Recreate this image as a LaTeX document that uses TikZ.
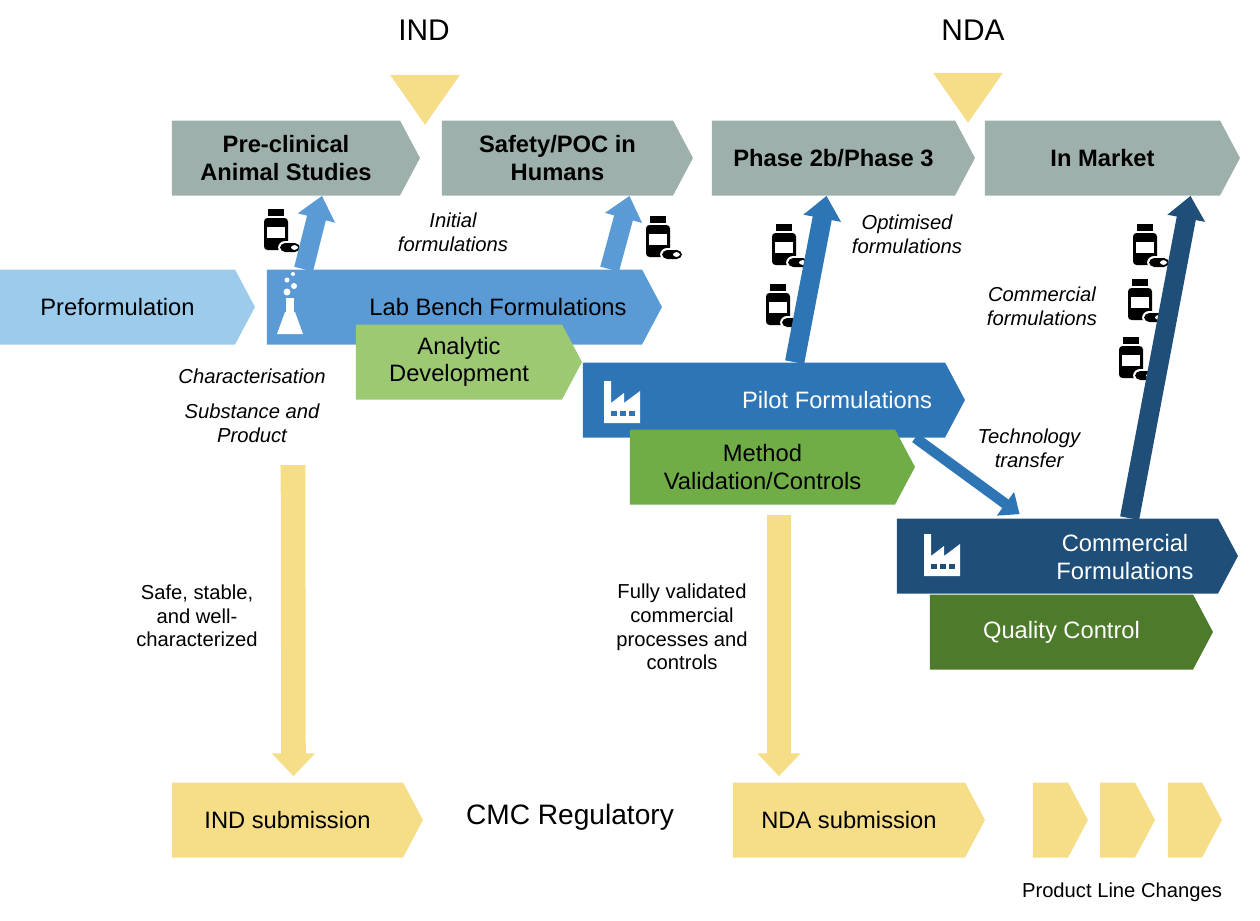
\documentclass[tikz,border=0pt]{standalone}
\usepackage{fontspec}
\setmainfont{Liberation Sans}
\usetikzlibrary{shapes.symbols, shapes.geometric, arrows.meta, positioning, calc}
\definecolor{stagegray}{RGB}{157, 176, 171}
\definecolor{preblue}{RGB}{157, 203, 235}
\definecolor{labblue}{RGB}{91, 155, 213}
\definecolor{pilotblue}{RGB}{46, 117, 182}
\definecolor{combblue}{RGB}{31, 78, 121}
\definecolor{lightgreen}{RGB}{157, 201, 115}
\definecolor{midgreen}{RGB}{112, 173, 71}
\definecolor{darkgreen}{RGB}{78, 122, 43}
\definecolor{regyellow}{RGB}{246, 221, 136}

\begin{document}
\begin{tikzpicture}[
    x=0.02cm, y=-0.02cm,
    stage/.style={signal, signal to=east, signal pointer angle=124, inner sep=0pt,
        minimum height=75*0.02cm, align=center, font=\fontsize{13.5}{15.5}\selectfont},
    milestone/.style={isosceles triangle, shape border rotate=-90, isosceles triangle apex angle=70,
        fill=regyellow, inner sep=0pt, minimum height=50*0.02cm},
    uparrow/.style={line width=11pt, -{Triangle[length=13pt, width=21pt]}},
    regarrow/.style={line width=14pt, regyellow, -{Triangle[length=13pt, width=24pt]}},
    note/.style={font=\fontsize{11.5}{13.5}\selectfont\itshape, align=center},
    plain/.style={font=\fontsize{11.5}{13.5}\selectfont, align=center},
    bottle/.pic={
        \fill[black] (-8,-21) rectangle (8,-14);
        \fill[black, rounded corners=2pt] (-12,-12) rectangle (12,20);
        \fill[white] (-9,-3) rectangle (9,8);
        \fill[black] (-12,-1) rectangle (-9,6);
        \fill[white, rounded corners=4pt] (2,11) rectangle (26,24);
        \fill[black, rounded corners=3pt] (4,13) rectangle (24,22);
        \fill[white, rounded corners=2pt] (15,15) rectangle (22,20);
    },
    flask/.pic={
        \fill[white] (-4,-14) rectangle (4,2);
        \fill[white] (-5,0) -- (5,0) -- (13,22) -- (-13,22) -- cycle;
        \fill[white] (-3,-20) circle (3.5);
        \fill[white] (4,-26) circle (3);
        \fill[white] (-3,-32) circle (2.5);
        \fill[white] (3,-38) circle (2);
    },
    factory/.pic={
        \fill[white] (-18,20) -- (-18,-22) -- (-11,-22) -- (-11,0) -- (2,-10) -- (2,0) -- (18,-12) -- (18,20) -- cycle;
        \fill[#1] (-11,8) rectangle (-5,13);
        \fill[#1] (-2,8) rectangle (4,13);
        \fill[#1] (7,8) rectangle (13,13);
    }
]
\useasboundingbox (0,0) rectangle (1260,920);

% Milestones
\node[font=\fontsize{17}{20}\selectfont] (indtitle) at (424,30) {IND};
\node[font=\fontsize{17}{20}\selectfont] (ndatitle) at (973,30) {NDA};
\node[milestone] (indmark) at (425,93) {};
\node[milestone] (ndamark) at (968,91) {};

% Clinical stages
\node[stage, fill=stagegray, minimum width=248*0.02cm, font=\fontsize{13.5}{15.5}\selectfont\bfseries] (preclin) at (286,158) {Pre-clinical\\Animal Studies};
\node[stage, fill=stagegray, minimum width=251*0.02cm, font=\fontsize{13.5}{15.5}\selectfont\bfseries] (safety) at (557.5,158) {Safety/POC in\\Humans};
\node[stage, fill=stagegray, minimum width=263*0.02cm, font=\fontsize{13.5}{15.5}\selectfont\bfseries] (phase) at (833.5,158) {Phase 2b/Phase 3};
\node[stage, fill=stagegray, minimum width=255*0.02cm, font=\fontsize{13.5}{15.5}\selectfont\bfseries] (market) at (1102.5,158) {In Market};

% Formulation stages
\node[stage, fill=preblue, minimum width=255*0.02cm] (preform) at (117.5,307) {Preformulation};
\node[stage, fill=labblue, minimum width=395*0.02cm] (lab) at (454.5,307) {};
\node[stage, fill=lightgreen, minimum width=226*0.02cm] (analytic) at (459,362) {Analytic\\Development};
\node[stage, fill=pilotblue, minimum width=382*0.02cm] (pilot) at (764,400) {};
\node[stage, fill=midgreen, minimum width=285*0.02cm] (method) at (762.5,467) {Method\\Validation/Controls};
\node[stage, fill=combblue, minimum width=341*0.02cm] (comm) at (1057.5,556) {};
\node[stage, fill=darkgreen, minimum width=283*0.02cm, text=white] (quality) at (1061.5,632) {Quality Control};
\node[font=\fontsize{13.5}{15.5}\selectfont] (labtext) at (498,307) {Lab Bench Formulations};
\node[font=\fontsize{13.5}{15.5}\selectfont, text=white] (pilottext) at (837,400) {Pilot Formulations};
\node[font=\fontsize{13.5}{15.5}\selectfont, text=white, align=center] (commtext) at (1125,557) {Commercial\\Formulations};

% Regulatory stages
\node[stage, fill=regyellow, minimum width=251*0.02cm] (indsub) at (287.5,820) {IND submission};
\node[stage, fill=regyellow, minimum width=252*0.02cm] (ndasub) at (849,820) {NDA submission};
\node[stage, fill=regyellow, minimum width=55*0.02cm] (plc1) at (1050.5,820) {};
\node[stage, fill=regyellow, minimum width=55*0.02cm] (plc2) at (1117.5,820) {};
\node[stage, fill=regyellow, minimum width=54*0.02cm] (plc3) at (1185,820) {};
\node[font=\fontsize{16}{19}\selectfont] (cmc) at (570,817) {CMC Regulatory};
\node[plain] (plctext) at (1122,892) {Product Line Changes};

% Icons
\pic at (290,312) {flask};
\pic at (622,403) {factory=pilotblue};
\pic at (942,556) {factory=combblue};
\pic at (276,230) {bottle};
\pic at (658,237) {bottle};
\pic at (784,245) {bottle};
\pic at (778,305) {bottle};
\pic at (1145,245) {bottle};
\pic at (1140,300) {bottle};
\pic at (1131,358) {bottle};

% Formulations moving to the clinic
\draw[uparrow, labblue] ($(lab.north west)+(37,0)$) -- ($(preclin.south)+(36,0)$);
\draw[uparrow, labblue] ($(lab.north west)+(343,0)$) -- ($(safety.south)+(72,0)$);
\draw[uparrow, pilotblue] ($(pilot.north west)+(212,0)$) -- ($(phase.south)+(-7,0)$);
\draw[uparrow, combblue] ($(comm.north west)+(233,0)$) -- ($(market.south)+(88,0)$);
\draw[line width=6pt, pilotblue, -{Triangle[length=10pt, width=16pt]}] ($(pilot.south east)+(-30,0)$) -- ($(comm.north west)+(123,-4)$);

% Regulatory feeds
\coordinate (indfeed) at (293,465);
\coordinate (ndafeed) at (779,515);
\draw[regarrow] (indfeed) -- ($(indsub.north)+(6,-6)$);
\draw[regarrow] (ndafeed) -- ($(ndasub.north)+(-70,-6)$);

% Labels
\node[note] (initial) at (453,232) {Initial\\formulations};
\node[note] (optimised) at (907,234) {Optimised\\formulations};
\node[note] (commercial) at (1042,306) {Commercial\\formulations};
\node[note] (transfer) at (1029,448) {Technology\\transfer};
\node[note] (charact) at (252,376) {Characterisation};
\node[note] (substance) at (252,423) {Substance and\\Product};
\node[plain] (safe) at (197,616) {Safe, stable,\\and well-\\characterized};
\node[plain] (validated) at (682,627) {Fully validated\\commercial\\processes and\\controls};

\end{tikzpicture}
\end{document}
